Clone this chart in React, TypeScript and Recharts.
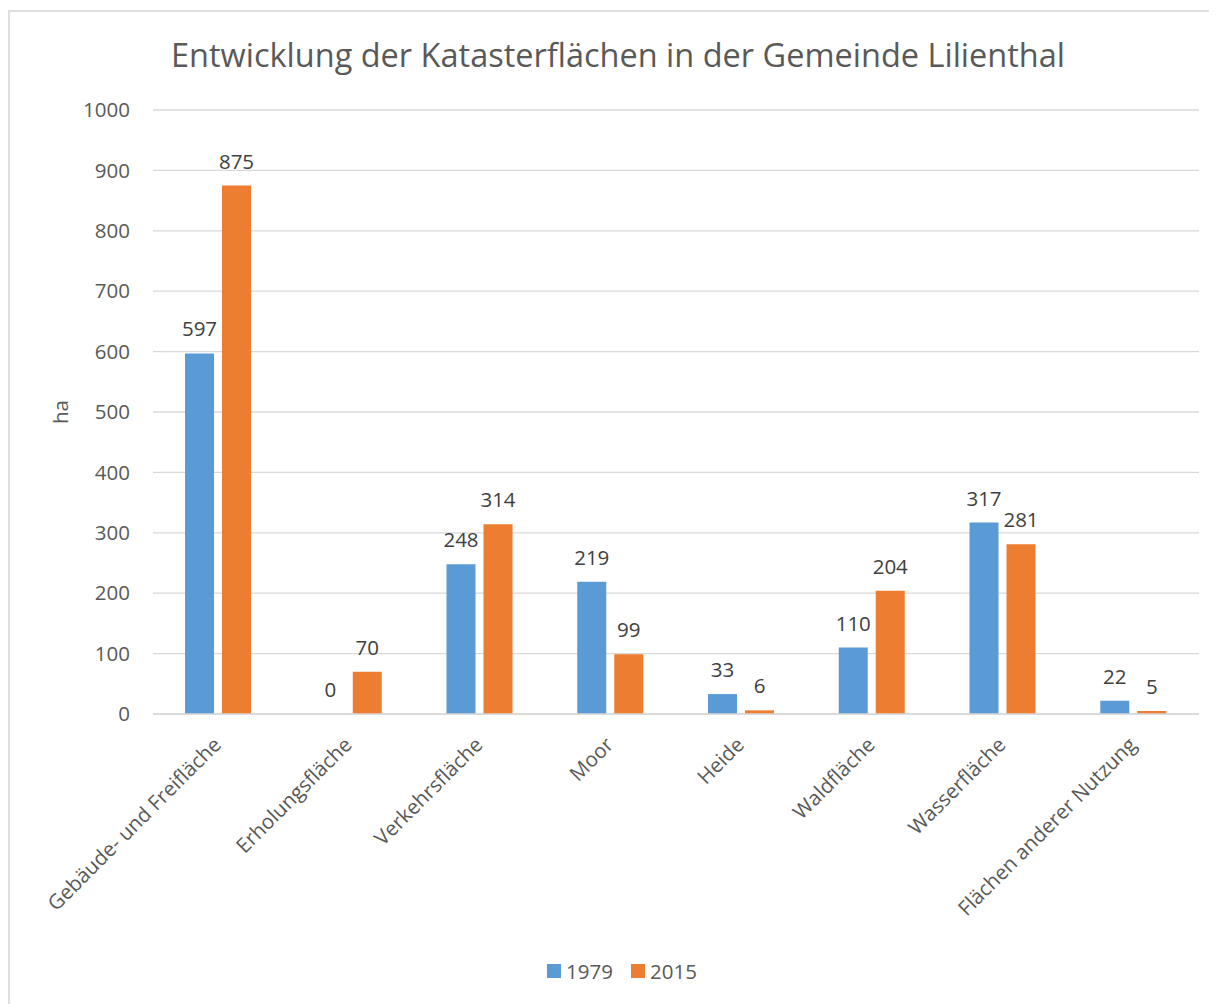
import React from "react";
import { Bar, BarChart, CartesianGrid, Label, LabelList, Legend, XAxis, YAxis } from "recharts";

const categories = [
  "Gebäude- und Freifläche",
  "Erholungsfläche",
  "Verkehrsfläche",
  "Moor",
  "Heide",
  "Waldfläche",
  "Wasserfläche",
  "Flächen anderer Nutzung",
];
const values1979 = [597, 0, 248, 219, 33, 110, 317, 22];
const values2015 = [875, 70, 314, 99, 6, 204, 281, 5];
const yTicks = [0, 100, 200, 300, 400, 500, 600, 700, 800, 900, 1000];
const seriesNames = ["1979", "2015"];
const seriesColors = ["#5b9bd5", "#ed7d31"];

const data = categories.map((name, i) => ({
  name,
  y1979: values1979[i],
  y2015: values2015[i],
}));

const FONT = "'Open Sans', sans-serif";
const TEXT = "#595959";
const FS = 20.5;

// rotated category labels, like Excel's -45° axis text
function XTick(props: any) {
  const { x, y, payload } = props;
  const ax = x + 4;
  const ay = y + 24;
  return (
    <text
      x={ax}
      y={ay}
      transform={`rotate(-45, ${ax}, ${ay})`}
      textAnchor="end"
      fontFamily={FONT}
      fontSize={FS}
      fill={TEXT}
    >
      {payload.value}
    </text>
  );
}

// value label above each bar (also draws the 0)
function ValueLabel(props: any) {
  const { x, y, width, value } = props;
  return (
    <text
      x={x + width / 2}
      y={y - 17}
      textAnchor="middle"
      fontFamily={FONT}
      fontSize={FS}
      fill="#404040"
    >
      {value}
    </text>
  );
}

function LegendContent() {
  return (
    <div
      style={{
        height: 24,
        display: "flex",
        justifyContent: "center",
        alignItems: "center",
        paddingLeft: 17,
        fontFamily: FONT,
        fontSize: FS,
        color: TEXT,
      }}
    >
      {seriesNames.map((n, i) => (
        <div key={n} style={{ display: "flex", alignItems: "center", marginRight: i === 0 ? 18 : 0 }}>
          <span style={{ width: 14, height: 14, background: seriesColors[i], marginRight: 5, display: "inline-block" }} />
          <span>{n}</span>
        </div>
      ))}
    </div>
  );
}

// keep zero-value bars in the layout so their "0" label still shows
const keepZero = (v: any) => (v === 0 ? 0.01 : 0);

export default function App() {
  return (
    <div
      style={{
        position: "relative",
        top: 2,
        width: 1207,
        height: 994,
        borderTop: "2px solid #dedede",
        borderLeft: "2px solid #dedede",
        background: "#fff",
      }}
    >
      <div
        style={{
          position: "absolute",
          left: 0,
          top: 20,
          width: 1216,
          textAlign: "center",
          fontFamily: FONT,
          fontSize: 32.5,
          color: TEXT,
        }}
      >
        Entwicklung der Katasterflächen in der Gemeinde Lilienthal
      </div>
      <BarChart
        width={1207}
        height={994}
        data={data}
        barSize={29}
        barGap={8}
        margin={{ top: 98, right: 18, left: 83, bottom: 0 }}
      >
        <CartesianGrid vertical={false} stroke="#d9d9d9" strokeWidth={1.3} />
        <XAxis
          dataKey="name"
          interval={0}
          height={268}
          tickLine={false}
          axisLine={{ stroke: "#d9d9d9", strokeWidth: 1.5 }}
          tick={<XTick />}
        />
        <YAxis
          domain={[0, 1000]}
          ticks={yTicks}
          width={60}
          tickLine={false}
          axisLine={false}
          tickSize={0}
          tickMargin={23}
          tick={{ fontFamily: FONT, fontSize: FS, fill: TEXT }}
        >
          <Label
            content={(p: any) => {
              const vb = p.viewBox;
              const cx = vb.x - 33;
              const cy = vb.y + vb.height / 2;
              return (
                <text
                  x={cx}
                  y={cy}
                  transform={`rotate(-90, ${cx}, ${cy})`}
                  textAnchor="middle"
                  dominantBaseline="central"
                  fontFamily={FONT}
                  fontSize={FS}
                  fill={TEXT}
                >
                  ha
                </text>
              );
            }}
          />
        </YAxis>
        <Legend
          verticalAlign="bottom"
          content={<LegendContent />}
          wrapperStyle={{ left: 0, width: 1207, top: 947 }}
        />
        <Bar
          dataKey="y1979"
          name={seriesNames[0]}
          fill={seriesColors[0]}
          minPointSize={keepZero}
          isAnimationActive={false}
        >
          <LabelList dataKey="y1979" content={<ValueLabel />} />
        </Bar>
        <Bar
          dataKey="y2015"
          name={seriesNames[1]}
          fill={seriesColors[1]}
          minPointSize={keepZero}
          isAnimationActive={false}
        >
          <LabelList dataKey="y2015" content={<ValueLabel />} />
        </Bar>
      </BarChart>
    </div>
  );
}
